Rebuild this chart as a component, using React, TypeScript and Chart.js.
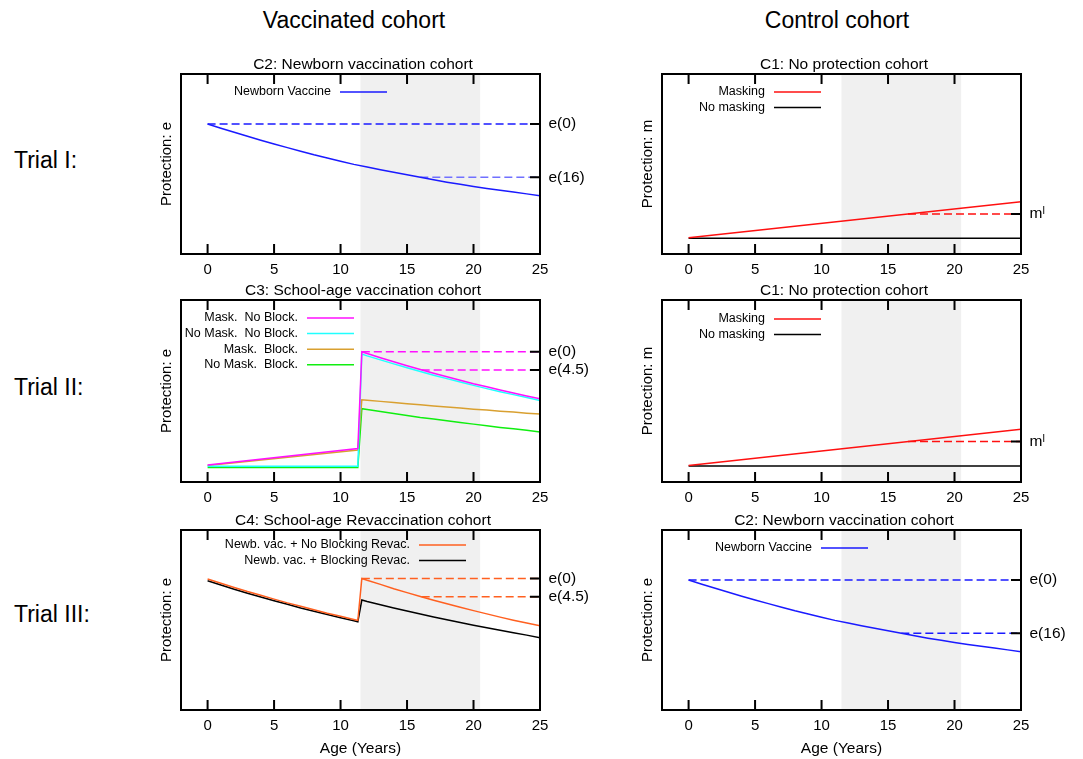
import React, { useEffect, useRef } from 'react';
import { Chart, registerables } from 'chart.js';

Chart.register(...registerables);

const FONT = "'Liberation Sans', Arial, Helvetica, 'DejaVu Sans', sans-serif";

// ---------- shared axis data ----------
const xTicks = [0, 5, 10, 15, 20, 25];
const xMin = -2;
const xMax = 25;
const shadeStart = 11.5;
const shadeEnd = 20.5;

// ---------- C2: Newborn vaccination cohort ----------
const newbornAges = [0, 1, 2, 3, 4, 5, 6, 7, 8, 9, 10, 11, 12, 13, 14, 15, 16, 17, 18, 19, 20, 21, 22, 23, 24, 25];
const newbornVaccine = [0.722, 0.699, 0.676, 0.654, 0.632, 0.611, 0.591, 0.571, 0.551, 0.533, 0.515, 0.498, 0.483, 0.468, 0.454, 0.440, 0.426, 0.412, 0.399, 0.387, 0.375, 0.364, 0.354, 0.344, 0.334, 0.324];
const newbornE0 = 0.722;
const newbornE16 = 0.426;
const newbornE0Start = 0;
const newbornE16Start = 16;

// ---------- C1: No protection cohort ----------
const noProtAges = [0, 25];
const masking = [0.09, 0.29];
const noMasking = [0.088, 0.088];
const maskingMl = 0.222;
const maskingMlStart = 16.5;

// ---------- C3: School-age vaccination cohort ----------
const schoolAges = [0, 11.3, 11.6, 12, 13, 14, 15, 16, 17, 18, 19, 20, 21, 22, 23, 24, 25];
const maskNoBlock = [0.093, 0.184, 0.716, 0.706, 0.683, 0.661, 0.639, 0.618, 0.598, 0.578, 0.559, 0.540, 0.523, 0.506, 0.489, 0.473, 0.457];
const noMaskNoBlock = [0.087, 0.087, 0.703, 0.693, 0.671, 0.649, 0.628, 0.607, 0.587, 0.568, 0.549, 0.531, 0.513, 0.496, 0.480, 0.464, 0.448];
const maskBlock = [0.090, 0.176, 0.452, 0.449, 0.443, 0.437, 0.430, 0.424, 0.418, 0.412, 0.406, 0.400, 0.395, 0.389, 0.384, 0.378, 0.373];
const noMaskBlock = [0.080, 0.080, 0.403, 0.398, 0.387, 0.376, 0.366, 0.355, 0.346, 0.336, 0.327, 0.318, 0.309, 0.300, 0.292, 0.284, 0.275];
const schoolE0 = 0.716;
const schoolE45 = 0.616;
const schoolE0Start = 11.6;
const schoolE45Start = 16.1;

// ---------- C4: School-age Revaccination cohort ----------
const revacAges = [0, 1, 2, 3, 4, 5, 6, 7, 8, 9, 10, 11, 11.3, 11.6, 12, 13, 14, 15, 16, 17, 18, 19, 20, 21, 22, 23, 24, 25];
const noBlockingRevac = [0.728, 0.704, 0.681, 0.658, 0.637, 0.616, 0.595, 0.576, 0.557, 0.538, 0.521, 0.503, 0.498, 0.731, 0.721, 0.698, 0.674, 0.652, 0.631, 0.610, 0.590, 0.571, 0.552, 0.534, 0.516, 0.499, 0.483, 0.468];
const blockingRevac = [0.718, 0.694, 0.671, 0.649, 0.628, 0.607, 0.587, 0.567, 0.549, 0.530, 0.513, 0.496, 0.490, 0.611, 0.603, 0.585, 0.567, 0.550, 0.533, 0.517, 0.501, 0.486, 0.471, 0.457, 0.443, 0.429, 0.416, 0.402];
const revacE0 = 0.731;
const revacE45 = 0.629;
const revacE0Start = 11.6;
const revacE45Start = 16.1;

// ---------- layout constants ----------
const L = 45;
const R = 50;
const T = 22;
const B = 24;
const BB = 48;

const zip = (xs: number[], ys: number[]) => xs.map((x, i) => ({ x, y: ys[i] }));
const hline = (start: number, v: number) => [{ x: start, y: v }, { x: xMax, y: v }];

const curve = (label: string, xs: number[], ys: number[], color: string) => ({
  label,
  data: zip(xs, ys),
  borderColor: color,
  borderWidth: 1.5,
  pointRadius: 0,
  tension: 0,
  showInKey: true,
  yAxisID: 'y',
});
const dashed = (start: number, v: number, color: string) => ({
  label: '',
  data: hline(start, v),
  borderColor: color,
  borderWidth: 1.5,
  borderDash: [8, 4],
  pointRadius: 0,
  tension: 0,
  showInKey: false,
  yAxisID: 'y',
});

const BLUE = '#1a1aff';
const RED = '#ff1010';
const MAGENTA = '#ff10ff';
const CYAN = '#20ffff';
const GOLD = '#d9a030';
const GREEN = '#10ee10';
const ORANGE = '#ff6020';

const decor = {
  id: 'decor',
  beforeDatasetsDraw(chart: any) {
    const { ctx, chartArea: a, scales } = chart;
    const x = scales.x;
    const x0 = x.getPixelForValue(shadeStart);
    const x1 = x.getPixelForValue(shadeEnd);
    ctx.save();
    ctx.fillStyle = '#f0f0f0';
    ctx.fillRect(x0, a.top, x1 - x0, a.bottom - a.top);
    ctx.restore();
  },
  afterDatasetsDraw(chart: any, _args: any, opts: any) {
    const { ctx, chartArea: a, scales } = chart;
    const x = scales.x;
    const y2 = scales.y2;
    ctx.save();
    ctx.setLineDash([]);
    ctx.strokeStyle = '#000';
    ctx.lineWidth = 2;
    ctx.beginPath();
    x.ticks.forEach((t: any) => {
      const px = x.getPixelForValue(t.value);
      ctx.moveTo(px, a.bottom);
      ctx.lineTo(px, a.bottom - 10);
      ctx.moveTo(px, a.top);
      ctx.lineTo(px, a.top + 10);
    });
    y2.ticks.forEach((t: any) => {
      const py = y2.getPixelForValue(t.value);
      ctx.moveTo(a.right, py);
      ctx.lineTo(a.right - 10, py);
    });
    ctx.stroke();
    ctx.strokeRect(a.left, a.top, a.right - a.left, a.bottom - a.top);

    // gnuplot-style key: right-aligned text then a line sample
    const lx = a.left + opts.keyX;
    let ly = a.top + opts.keyY;
    ctx.font = `12.5px ${FONT}`;
    ctx.textAlign = 'right';
    ctx.textBaseline = 'middle';
    chart.data.datasets.forEach((ds: any) => {
      if (!ds.showInKey) return;
      ctx.fillStyle = '#000';
      ctx.fillText(ds.label, lx - 9, ly);
      ctx.strokeStyle = ds.borderColor;
      ctx.lineWidth = ds.borderWidth;
      ctx.beginPath();
      ctx.moveTo(lx, ly);
      ctx.lineTo(lx + 47, ly);
      ctx.stroke();
      ly += 15.6;
    });
    ctx.restore();
  },
};

type PanelCfg = {
  boxLeft: number;
  boxTop: number;
  boxW: number;
  boxH: number;
  title: string;
  yTitle: string;
  xTitle: boolean;
  datasets: any[];
  rightVals: number[];
  rightLabels: string[];
  keyX: number;
  keyY: number;
};

function Panel({ cfg }: { cfg: PanelCfg }) {
  const ref = useRef<HTMLCanvasElement | null>(null);
  const w = L + cfg.boxW + R;
  const h = T + cfg.boxH + (cfg.xTitle ? BB : B);
  useEffect(() => {
    if (!ref.current) return;
    const chart = new Chart(ref.current, {
      type: 'line',
      data: { datasets: cfg.datasets },
      options: {
        animation: false,
        responsive: false,
        maintainAspectRatio: false,
        events: [],
        layout: { padding: 0 },
        plugins: {
          legend: { display: false },
          tooltip: { enabled: false },
          title: {
            display: true,
            text: cfg.title,
            color: '#000',
            font: { family: FONT, size: 15.5, weight: 'normal', lineHeight: 1 },
            padding: { top: 4.5, bottom: 2 },
          },
          decor: { keyX: cfg.keyX, keyY: cfg.keyY },
        } as any,
        scales: {
          x: {
            type: 'linear',
            min: xMin,
            max: xMax,
            afterBuildTicks: (s: any) => {
              s.ticks = xTicks.map((v) => ({ value: v }));
            },
            ticks: {
              autoSkip: false,
              maxRotation: 0,
              color: '#000',
              font: { family: FONT, size: 15 },
              padding: 6.5,
            },
            grid: { display: false, drawTicks: false },
            border: { display: false },
            title: {
              display: cfg.xTitle,
              text: 'Age (Years)',
              color: '#000',
              font: { family: FONT, size: 15.5, lineHeight: 1.2 },
              padding: { top: 0, bottom: 0 },
            },
            afterFit: (s: any) => {
              s.height = cfg.xTitle ? BB : B;
            },
          },
          y: {
            type: 'linear',
            position: 'left',
            min: 0,
            max: 1,
            ticks: { display: false },
            grid: { display: false, drawTicks: false },
            border: { display: false },
            title: {
              display: true,
              text: cfg.yTitle,
              color: '#000',
              font: { family: FONT, size: 15, lineHeight: 1.2 },
              padding: { top: 22, bottom: 0 },
            },
            afterFit: (s: any) => {
              s.width = L;
            },
          },
          y2: {
            type: 'linear',
            position: 'right',
            min: 0,
            max: 1,
            afterBuildTicks: (s: any) => {
              s.ticks = cfg.rightVals.map((v) => ({ value: v }));
            },
            ticks: {
              autoSkip: false,
              color: '#000',
              font: { family: FONT, size: 15.5 },
              padding: 8.5,
              callback: (v: any) => {
                const i = cfg.rightVals.indexOf(Number(v));
                return i >= 0 ? cfg.rightLabels[i] : '';
              },
            },
            grid: { display: false, drawTicks: false },
            border: { display: false },
            afterFit: (s: any) => {
              s.width = R;
            },
          },
        } as any,
      },
      plugins: [decor as any],
    });
    return () => chart.destroy();
  }, []);
  return (
    <canvas
      ref={ref}
      width={w}
      height={h}
      style={{ position: 'absolute', left: cfg.boxLeft - L, top: cfg.boxTop - T, width: w, height: h }}
    />
  );
}

const COL = [181, 662];
const ROW = [74, 300, 530];
const BOXW = 359;
const BOXH = [180, 182, 180];

const newbornSets = (lightE16: boolean) => [
  curve('Newborn Vaccine', newbornAges, newbornVaccine, BLUE),
  dashed(newbornE0Start, newbornE0, BLUE),
  dashed(newbornE16Start, newbornE16, lightE16 ? '#7070ff' : BLUE),
];
const noProtSets = () => [
  curve('Masking', noProtAges, masking, RED),
  curve('No masking', noProtAges, noMasking, '#000'),
  dashed(maskingMlStart, maskingMl, RED),
];

const panels: PanelCfg[] = [
  {
    boxLeft: COL[0], boxTop: ROW[0], boxW: BOXW, boxH: BOXH[0],
    title: 'C2: Newborn vaccination cohort', yTitle: 'Protection: e', xTitle: false,
    datasets: newbornSets(true),
    rightVals: [newbornE0, newbornE16], rightLabels: ['e(0)', 'e(16)'],
    keyX: 159, keyY: 18,
  },
  {
    boxLeft: COL[1], boxTop: ROW[0], boxW: BOXW, boxH: BOXH[0],
    title: 'C1: No protection cohort', yTitle: 'Protection: m', xTitle: false,
    datasets: noProtSets(),
    rightVals: [maskingMl], rightLabels: ['m\u02E1'],
    keyX: 112, keyY: 18,
  },
  {
    boxLeft: COL[0], boxTop: ROW[1], boxW: BOXW, boxH: BOXH[1],
    title: 'C3: School-age vaccination cohort', yTitle: 'Protection: e', xTitle: false,
    datasets: [
      curve('Mask.  No Block.', schoolAges, maskNoBlock, MAGENTA),
      curve('No Mask.  No Block.', schoolAges, noMaskNoBlock, CYAN),
      curve('Mask.  Block.', schoolAges, maskBlock, GOLD),
      curve('No Mask.  Block.', schoolAges, noMaskBlock, GREEN),
      dashed(schoolE0Start, schoolE0, MAGENTA),
      dashed(schoolE45Start, schoolE45, MAGENTA),
    ],
    rightVals: [schoolE0, schoolE45], rightLabels: ['e(0)', 'e(4.5)'],
    keyX: 126, keyY: 18,
  },
  {
    boxLeft: COL[1], boxTop: ROW[1], boxW: BOXW, boxH: BOXH[1],
    title: 'C1: No protection cohort', yTitle: 'Protection: m', xTitle: false,
    datasets: noProtSets(),
    rightVals: [maskingMl], rightLabels: ['m\u02E1'],
    keyX: 112, keyY: 19,
  },
  {
    boxLeft: COL[0], boxTop: ROW[2], boxW: BOXW, boxH: BOXH[2],
    title: 'C4: School-age Revaccination cohort', yTitle: 'Protection: e', xTitle: true,
    datasets: [
      curve('Newb. vac. + No Blocking Revac.', revacAges, noBlockingRevac, ORANGE),
      curve('Newb. vac. + Blocking Revac.', revacAges, blockingRevac, '#000'),
      dashed(revacE0Start, revacE0, ORANGE),
      dashed(revacE45Start, revacE45, ORANGE),
    ],
    rightVals: [revacE0, revacE45], rightLabels: ['e(0)', 'e(4.5)'],
    keyX: 238, keyY: 15,
  },
  {
    boxLeft: COL[1], boxTop: ROW[2], boxW: BOXW, boxH: BOXH[2],
    title: 'C2: Newborn vaccination cohort', yTitle: 'Protection: e', xTitle: true,
    datasets: newbornSets(false),
    rightVals: [newbornE0, newbornE16], rightLabels: ['e(0)', 'e(16)'],
    keyX: 159, keyY: 18,
  },
];

const columnHeads = ['Vaccinated cohort', 'Control cohort'];
const columnHeadCenters = [354, 837];
const trialLabels = ['Trial I:', 'Trial II:', 'Trial III:'];
const trialCenters = [160, 387, 614];

export default function App() {
  return (
    <div
      style={{
        position: 'absolute',
        left: 0,
        top: 0,
        width: 1083,
        height: 759,
        background: '#fff',
        fontFamily: FONT,
        color: '#000',
        overflow: 'hidden',
      }}
    >
      {columnHeads.map((t, i) => (
        <div
          key={t}
          style={{
            position: 'absolute',
            left: columnHeadCenters[i] - 150,
            top: 20 - 14,
            width: 300,
            textAlign: 'center',
            fontSize: 23,
            lineHeight: '28px',
            whiteSpace: 'nowrap',
          }}
        >
          {t}
        </div>
      ))}
      {trialLabels.map((t, i) => (
        <div
          key={t}
          style={{
            position: 'absolute',
            left: 14,
            top: trialCenters[i] - 14,
            fontSize: 23,
            lineHeight: '28px',
            whiteSpace: 'nowrap',
          }}
        >
          {t}
        </div>
      ))}
      {panels.map((p, i) => (
        <Panel key={i} cfg={p} />
      ))}
    </div>
  );
}
